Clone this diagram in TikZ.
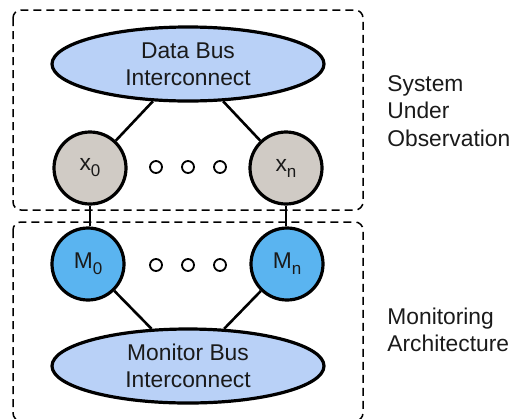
\documentclass[tikz,border=0pt]{standalone}
\usepackage{fontspec}
\setmainfont{Liberation Sans}
\usepackage{xcolor}
\usepackage{tikz}
\usetikzlibrary{shapes.geometric}
\definecolor{busblue}{HTML}{B9D1F7}
\definecolor{nodegray}{HTML}{D0CBC5}
\definecolor{monblue}{HTML}{5AB4F0}
\definecolor{textdark}{HTML}{1A1A1A}
\newcommand{\lowidx}[1]{\raisebox{-0.5ex}{\fontsize{8.5}{8.5}\selectfont #1}}

\begin{document}
\begin{tikzpicture}[x=0.5pt,y=-0.5pt,
  every node/.style={font=\fontsize{11.4}{13.6}\selectfont,text=textdark},
  bus/.style={ellipse,draw,line width=1.6pt,fill=busblue,minimum width=136pt,minimum height=37pt,inner sep=0pt,align=center},
  unit/.style={circle,draw,line width=1.6pt,minimum size=36pt,inner sep=0pt},
  dot/.style={circle,draw,line width=0.9pt,fill=white,minimum size=6pt,inner sep=0pt},
  link/.style={line width=1.3pt},
  region/.style={dashed,dash pattern=on 4pt off 2.5pt,line width=0.75pt,rounded corners=4pt}]
  \useasboundingbox (0,0) rectangle (512,418);

  % Rahmen: beobachtetes System und Monitoring
  \draw[region] (13,10) rectangle (363,210);
  \draw[region] (13,222) rectangle (363,421);

  % Datenbus mit Knoten x_0 ... x_n
  \node[bus] (databus) at (188,64) {Data Bus\\Interconnect};
  \node[unit,fill=nodegray] (x0) at (90,168) {x\lowidx{0}};
  \node[unit,fill=nodegray] (xn) at (286,168) {x\lowidx{n}};
  \node[dot] (xd1) at (156,167) {};
  \node[dot] (xd2) at (188,167) {};
  \node[dot] (xd3) at (220,167) {};
  \draw[link] (databus) -- (x0);
  \draw[link] (databus) -- (xn);

  % Monitorbus mit Monitoren M_0 ... M_n
  \node[bus] (monbus) at (188,366) {Monitor Bus\\Interconnect};
  \node[unit,fill=monblue] (m0) at (88,264) {M\lowidx{0}};
  \node[unit,fill=monblue] (mn) at (287,264) {M\lowidx{n}};
  \node[dot] (md1) at (156,265) {};
  \node[dot] (md2) at (188,265) {};
  \node[dot] (md3) at (220,265) {};
  \draw[link] (monbus) -- (m0);
  \draw[link] (monbus) -- (mn);

  % Verbindungen zwischen den Ebenen
  \draw[link] (x0) -- (x0 |- m0.north);
  \draw[link] (xn) -- (xn |- mn.north);

  % Beschriftungen rechts
  \node[align=left,anchor=west,inner sep=0pt] (sysl) at (387,111) {System\\Under\\Observation};
  \node[align=left,anchor=west,inner sep=0pt] (monl) at (387,330) {Monitoring\\Architecture};
\end{tikzpicture}
\end{document}
